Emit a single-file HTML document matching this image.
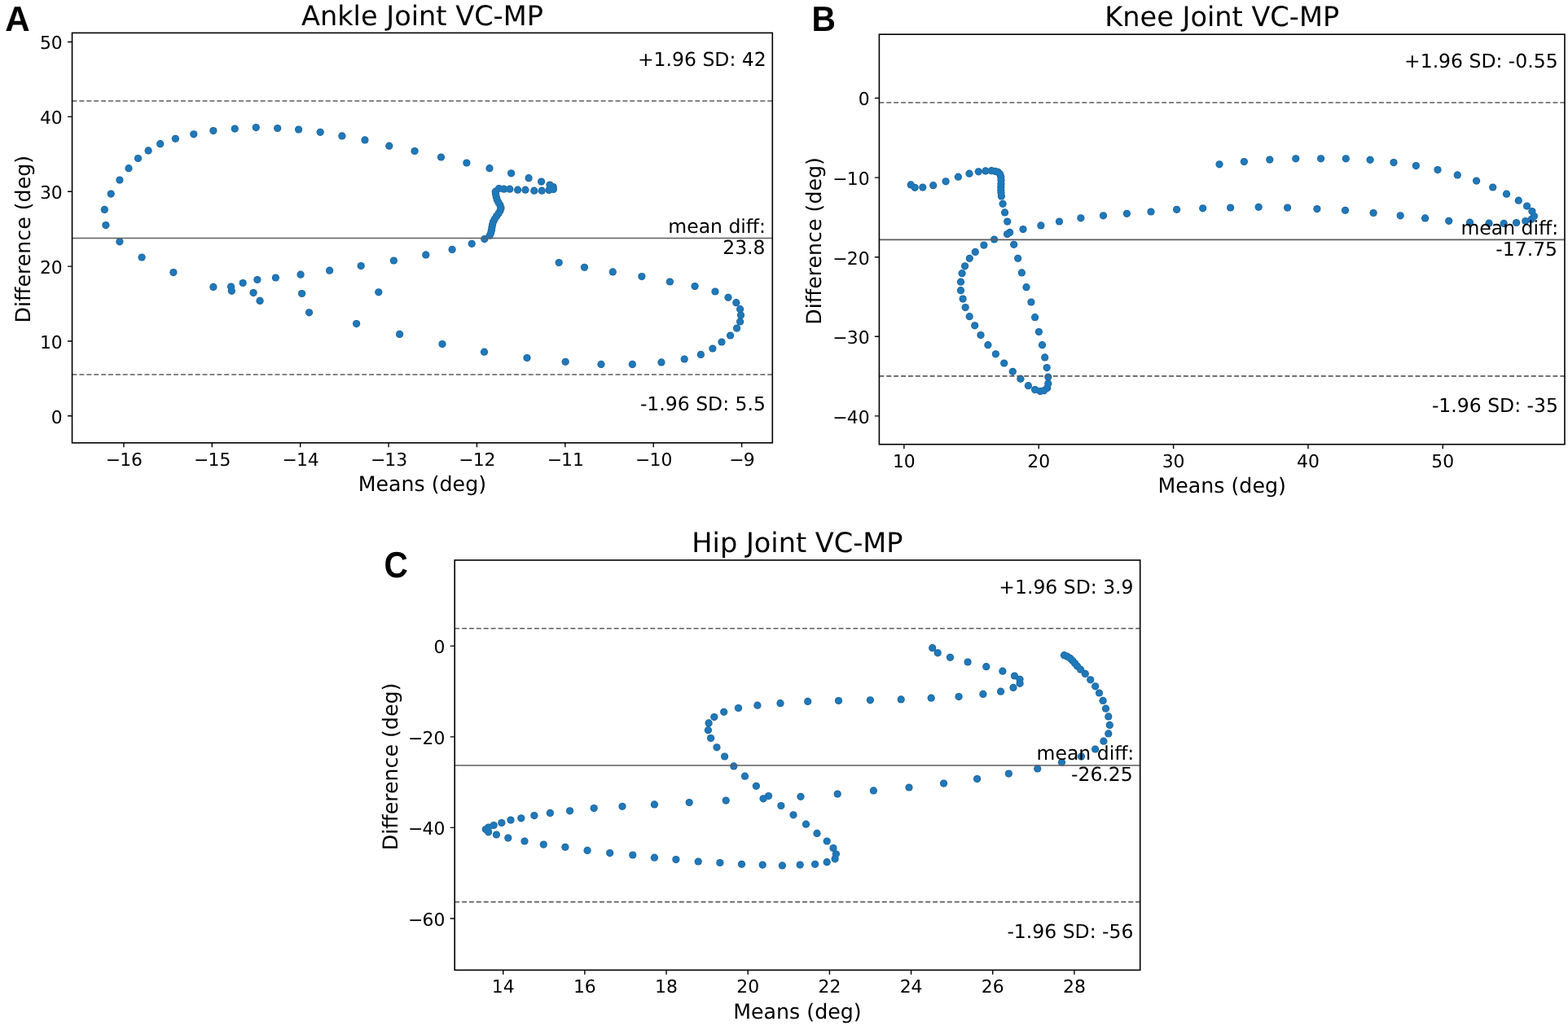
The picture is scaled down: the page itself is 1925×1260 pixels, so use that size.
<!DOCTYPE html><html><head><meta charset="utf-8"><title>Bland-Altman VC-MP</title><style>html,body{margin:0;padding:0;background:#fff;}svg{display:block;}text{font-family:"DejaVu Sans","Liberation Sans",sans-serif;fill:#000;text-rendering:geometricPrecision;}.lt{font-family:"Liberation Sans",Arial,sans-serif;font-weight:bold;text-rendering:geometricPrecision;}</style></head><body>
<svg width="1925" height="1260" viewBox="0 0 1925 1260">
<rect width="1925" height="1260" fill="#fff"/>
<g><g fill="#1a5e98">
<circle cx="129.9" cy="276.6" r="4.6"/>
<circle cx="128.3" cy="257.4" r="4.6"/>
<circle cx="136.2" cy="238.1" r="4.6"/>
<circle cx="146.9" cy="221.1" r="4.6"/>
<circle cx="158.0" cy="206.7" r="4.6"/>
<circle cx="169.5" cy="194.5" r="4.6"/>
<circle cx="182.1" cy="184.9" r="4.6"/>
<circle cx="196.7" cy="176.7" r="4.6"/>
<circle cx="215.4" cy="170.3" r="4.6"/>
<circle cx="237.8" cy="164.8" r="4.6"/>
<circle cx="261.9" cy="160.6" r="4.6"/>
<circle cx="288.3" cy="158.1" r="4.6"/>
<circle cx="314.3" cy="156.6" r="4.6"/>
<circle cx="340.7" cy="157.5" r="4.6"/>
<circle cx="366.6" cy="159.1" r="4.6"/>
<circle cx="393.2" cy="162.3" r="4.6"/>
<circle cx="419.9" cy="166.9" r="4.6"/>
<circle cx="448.0" cy="171.9" r="4.6"/>
<circle cx="477.8" cy="179.2" r="4.6"/>
<circle cx="509.1" cy="185.5" r="4.6"/>
<circle cx="541.5" cy="193.0" r="4.6"/>
<circle cx="572.9" cy="200.0" r="4.6"/>
<circle cx="601.0" cy="206.7" r="4.6"/>
<circle cx="627.6" cy="212.8" r="4.6"/>
<circle cx="649.1" cy="218.7" r="4.6"/>
<circle cx="664.6" cy="223.1" r="4.6"/>
<circle cx="675.0" cy="227.1" r="4.6"/>
<circle cx="679.1" cy="229.5" r="4.6"/>
<circle cx="679.4" cy="232.5" r="4.6"/>
<circle cx="674.0" cy="233.5" r="4.6"/>
<circle cx="665.2" cy="234.2" r="4.6"/>
<circle cx="655.8" cy="234.2" r="4.6"/>
<circle cx="645.0" cy="233.2" r="4.6"/>
<circle cx="635.6" cy="233.2" r="4.6"/>
<circle cx="625.8" cy="232.2" r="4.6"/>
<circle cx="618.7" cy="232.2" r="4.6"/>
<circle cx="612.6" cy="231.5" r="4.6"/>
<circle cx="608.3" cy="235.2" r="4.6"/>
<circle cx="608.6" cy="238.6" r="4.6"/>
<circle cx="609.3" cy="242.0" r="4.6"/>
<circle cx="610.3" cy="245.3" r="4.6"/>
<circle cx="612.0" cy="248.7" r="4.6"/>
<circle cx="614.0" cy="252.1" r="4.6"/>
<circle cx="615.0" cy="255.5" r="4.6"/>
<circle cx="614.0" cy="258.8" r="4.6"/>
<circle cx="612.0" cy="262.2" r="4.6"/>
<circle cx="609.6" cy="265.6" r="4.6"/>
<circle cx="607.3" cy="268.9" r="4.6"/>
<circle cx="605.6" cy="272.3" r="4.6"/>
<circle cx="604.6" cy="275.7" r="4.6"/>
<circle cx="604.0" cy="279.1" r="4.6"/>
<circle cx="603.5" cy="282.4" r="4.6"/>
<circle cx="602.7" cy="285.8" r="4.6"/>
<circle cx="601.2" cy="289.2" r="4.6"/>
<circle cx="594.8" cy="293.6" r="4.6"/>
<circle cx="579.2" cy="299.3" r="4.6"/>
<circle cx="555.1" cy="306.4" r="4.6"/>
<circle cx="522.8" cy="312.9" r="4.6"/>
<circle cx="483.4" cy="320.0" r="4.6"/>
<circle cx="443.2" cy="326.5" r="4.6"/>
<circle cx="404.6" cy="332.2" r="4.6"/>
<circle cx="369.1" cy="337.2" r="4.6"/>
<circle cx="338.4" cy="341.0" r="4.6"/>
<circle cx="315.9" cy="343.5" r="4.6"/>
<circle cx="298.2" cy="347.5" r="4.6"/>
<circle cx="283.6" cy="352.1" r="4.6"/>
<circle cx="261.9" cy="352.4" r="4.6"/>
<circle cx="146.9" cy="296.8" r="4.6"/>
<circle cx="174.1" cy="316.0" r="4.6"/>
<circle cx="212.9" cy="334.6" r="4.6"/>
<circle cx="284.4" cy="357.3" r="4.6"/>
<circle cx="311.1" cy="359.6" r="4.6"/>
<circle cx="319.1" cy="369.4" r="4.6"/>
<circle cx="370.6" cy="360.5" r="4.6"/>
<circle cx="379.5" cy="383.8" r="4.6"/>
<circle cx="464.8" cy="358.8" r="4.6"/>
<circle cx="437.6" cy="397.6" r="4.6"/>
<circle cx="490.6" cy="410.4" r="4.6"/>
<circle cx="543.0" cy="422.5" r="4.6"/>
<circle cx="594.5" cy="432.2" r="4.6"/>
<circle cx="647.0" cy="439.5" r="4.6"/>
<circle cx="694.2" cy="444.3" r="4.6"/>
<circle cx="738.0" cy="447.4" r="4.6"/>
<circle cx="776.4" cy="447.4" r="4.6"/>
<circle cx="812.0" cy="444.9" r="4.6"/>
<circle cx="840.2" cy="441.0" r="4.6"/>
<circle cx="860.4" cy="435.4" r="4.6"/>
<circle cx="874.9" cy="428.0" r="4.6"/>
<circle cx="886.0" cy="420.0" r="4.6"/>
<circle cx="896.6" cy="412.0" r="4.6"/>
<circle cx="904.6" cy="403.1" r="4.6"/>
<circle cx="908.6" cy="394.9" r="4.6"/>
<circle cx="909.5" cy="387.1" r="4.6"/>
<circle cx="908.6" cy="379.7" r="4.6"/>
<circle cx="903.8" cy="371.7" r="4.6"/>
<circle cx="894.0" cy="365.3" r="4.6"/>
<circle cx="878.0" cy="358.0" r="4.6"/>
<circle cx="853.1" cy="351.6" r="4.6"/>
<circle cx="822.4" cy="346.0" r="4.6"/>
<circle cx="787.9" cy="339.6" r="4.6"/>
<circle cx="752.3" cy="333.9" r="4.6"/>
<circle cx="717.5" cy="328.3" r="4.6"/>
<circle cx="686.2" cy="322.5" r="4.6"/>
</g>
<g fill="#1f78b8">
<circle cx="129.9" cy="276.6" r="3.85"/>
<circle cx="128.3" cy="257.4" r="3.85"/>
<circle cx="136.2" cy="238.1" r="3.85"/>
<circle cx="146.9" cy="221.1" r="3.85"/>
<circle cx="158.0" cy="206.7" r="3.85"/>
<circle cx="169.5" cy="194.5" r="3.85"/>
<circle cx="182.1" cy="184.9" r="3.85"/>
<circle cx="196.7" cy="176.7" r="3.85"/>
<circle cx="215.4" cy="170.3" r="3.85"/>
<circle cx="237.8" cy="164.8" r="3.85"/>
<circle cx="261.9" cy="160.6" r="3.85"/>
<circle cx="288.3" cy="158.1" r="3.85"/>
<circle cx="314.3" cy="156.6" r="3.85"/>
<circle cx="340.7" cy="157.5" r="3.85"/>
<circle cx="366.6" cy="159.1" r="3.85"/>
<circle cx="393.2" cy="162.3" r="3.85"/>
<circle cx="419.9" cy="166.9" r="3.85"/>
<circle cx="448.0" cy="171.9" r="3.85"/>
<circle cx="477.8" cy="179.2" r="3.85"/>
<circle cx="509.1" cy="185.5" r="3.85"/>
<circle cx="541.5" cy="193.0" r="3.85"/>
<circle cx="572.9" cy="200.0" r="3.85"/>
<circle cx="601.0" cy="206.7" r="3.85"/>
<circle cx="627.6" cy="212.8" r="3.85"/>
<circle cx="649.1" cy="218.7" r="3.85"/>
<circle cx="664.6" cy="223.1" r="3.85"/>
<circle cx="675.0" cy="227.1" r="3.85"/>
<circle cx="679.1" cy="229.5" r="3.85"/>
<circle cx="679.4" cy="232.5" r="3.85"/>
<circle cx="674.0" cy="233.5" r="3.85"/>
<circle cx="665.2" cy="234.2" r="3.85"/>
<circle cx="655.8" cy="234.2" r="3.85"/>
<circle cx="645.0" cy="233.2" r="3.85"/>
<circle cx="635.6" cy="233.2" r="3.85"/>
<circle cx="625.8" cy="232.2" r="3.85"/>
<circle cx="618.7" cy="232.2" r="3.85"/>
<circle cx="612.6" cy="231.5" r="3.85"/>
<circle cx="608.3" cy="235.2" r="3.85"/>
<circle cx="608.6" cy="238.6" r="3.85"/>
<circle cx="609.3" cy="242.0" r="3.85"/>
<circle cx="610.3" cy="245.3" r="3.85"/>
<circle cx="612.0" cy="248.7" r="3.85"/>
<circle cx="614.0" cy="252.1" r="3.85"/>
<circle cx="615.0" cy="255.5" r="3.85"/>
<circle cx="614.0" cy="258.8" r="3.85"/>
<circle cx="612.0" cy="262.2" r="3.85"/>
<circle cx="609.6" cy="265.6" r="3.85"/>
<circle cx="607.3" cy="268.9" r="3.85"/>
<circle cx="605.6" cy="272.3" r="3.85"/>
<circle cx="604.6" cy="275.7" r="3.85"/>
<circle cx="604.0" cy="279.1" r="3.85"/>
<circle cx="603.5" cy="282.4" r="3.85"/>
<circle cx="602.7" cy="285.8" r="3.85"/>
<circle cx="601.2" cy="289.2" r="3.85"/>
<circle cx="594.8" cy="293.6" r="3.85"/>
<circle cx="579.2" cy="299.3" r="3.85"/>
<circle cx="555.1" cy="306.4" r="3.85"/>
<circle cx="522.8" cy="312.9" r="3.85"/>
<circle cx="483.4" cy="320.0" r="3.85"/>
<circle cx="443.2" cy="326.5" r="3.85"/>
<circle cx="404.6" cy="332.2" r="3.85"/>
<circle cx="369.1" cy="337.2" r="3.85"/>
<circle cx="338.4" cy="341.0" r="3.85"/>
<circle cx="315.9" cy="343.5" r="3.85"/>
<circle cx="298.2" cy="347.5" r="3.85"/>
<circle cx="283.6" cy="352.1" r="3.85"/>
<circle cx="261.9" cy="352.4" r="3.85"/>
<circle cx="146.9" cy="296.8" r="3.85"/>
<circle cx="174.1" cy="316.0" r="3.85"/>
<circle cx="212.9" cy="334.6" r="3.85"/>
<circle cx="284.4" cy="357.3" r="3.85"/>
<circle cx="311.1" cy="359.6" r="3.85"/>
<circle cx="319.1" cy="369.4" r="3.85"/>
<circle cx="370.6" cy="360.5" r="3.85"/>
<circle cx="379.5" cy="383.8" r="3.85"/>
<circle cx="464.8" cy="358.8" r="3.85"/>
<circle cx="437.6" cy="397.6" r="3.85"/>
<circle cx="490.6" cy="410.4" r="3.85"/>
<circle cx="543.0" cy="422.5" r="3.85"/>
<circle cx="594.5" cy="432.2" r="3.85"/>
<circle cx="647.0" cy="439.5" r="3.85"/>
<circle cx="694.2" cy="444.3" r="3.85"/>
<circle cx="738.0" cy="447.4" r="3.85"/>
<circle cx="776.4" cy="447.4" r="3.85"/>
<circle cx="812.0" cy="444.9" r="3.85"/>
<circle cx="840.2" cy="441.0" r="3.85"/>
<circle cx="860.4" cy="435.4" r="3.85"/>
<circle cx="874.9" cy="428.0" r="3.85"/>
<circle cx="886.0" cy="420.0" r="3.85"/>
<circle cx="896.6" cy="412.0" r="3.85"/>
<circle cx="904.6" cy="403.1" r="3.85"/>
<circle cx="908.6" cy="394.9" r="3.85"/>
<circle cx="909.5" cy="387.1" r="3.85"/>
<circle cx="908.6" cy="379.7" r="3.85"/>
<circle cx="903.8" cy="371.7" r="3.85"/>
<circle cx="894.0" cy="365.3" r="3.85"/>
<circle cx="878.0" cy="358.0" r="3.85"/>
<circle cx="853.1" cy="351.6" r="3.85"/>
<circle cx="822.4" cy="346.0" r="3.85"/>
<circle cx="787.9" cy="339.6" r="3.85"/>
<circle cx="752.3" cy="333.9" r="3.85"/>
<circle cx="717.5" cy="328.3" r="3.85"/>
<circle cx="686.2" cy="322.5" r="3.85"/>
</g>
<line x1="88.55" y1="124.05" x2="948.30" y2="124.05" stroke="#5c5c5c" stroke-width="1.6" stroke-dasharray="5.9 2.993"/>
<line x1="88.55" y1="292.50" x2="948.30" y2="292.50" stroke="#5c5c5c" stroke-width="1.6"/>
<line x1="88.55" y1="460.00" x2="948.30" y2="460.00" stroke="#5c5c5c" stroke-width="1.6" stroke-dasharray="5.9 2.993"/>
<rect x="88.55" y="40.40" width="859.75" height="503.45" fill="none" stroke="#000" stroke-width="1.60"/>
<path d="M151.94 543.85v5.5M260.32 543.85v5.5M368.70 543.85v5.5M477.08 543.85v5.5M585.46 543.85v5.5M693.84 543.85v5.5M802.22 543.85v5.5M910.60 543.85v5.5M88.55 510.79h-5.5M88.55 418.95h-5.5M88.55 327.10h-5.5M88.55 235.26h-5.5M88.55 143.41h-5.5M88.55 51.56h-5.5" stroke="#000" stroke-width="1.4" fill="none"/>
<text x="152.39" y="571.85" font-size="21.90" text-anchor="middle">−<tspan dx="-0.9">16</tspan></text>
<text x="260.77" y="571.85" font-size="21.90" text-anchor="middle">−<tspan dx="-0.9">15</tspan></text>
<text x="369.15" y="571.85" font-size="21.90" text-anchor="middle">−<tspan dx="-0.9">14</tspan></text>
<text x="477.53" y="571.85" font-size="21.90" text-anchor="middle">−<tspan dx="-0.9">13</tspan></text>
<text x="585.91" y="571.85" font-size="21.90" text-anchor="middle">−<tspan dx="-0.9">12</tspan></text>
<text x="694.29" y="571.85" font-size="21.90" text-anchor="middle">−<tspan dx="-0.9">11</tspan></text>
<text x="802.67" y="571.85" font-size="21.90" text-anchor="middle">−<tspan dx="-0.9">10</tspan></text>
<text x="911.05" y="571.85" font-size="21.90" text-anchor="middle">−<tspan dx="-0.9">9</tspan></text>
<text x="76.75" y="519.59" font-size="21.90" text-anchor="end">0</text>
<text x="76.75" y="427.75" font-size="21.90" text-anchor="end">10</text>
<text x="76.75" y="335.90" font-size="21.90" text-anchor="end">20</text>
<text x="76.75" y="244.06" font-size="21.90" text-anchor="end">30</text>
<text x="76.75" y="152.21" font-size="21.90" text-anchor="end">40</text>
<text x="76.75" y="60.36" font-size="21.90" text-anchor="end">50</text>
<text x="940.69" y="81.40" font-size="23.50" text-anchor="end">+1.96 SD: 42</text>
<text x="939.97" y="285.80" font-size="23.50" text-anchor="end">mean diff:</text>
<text x="939.53" y="311.80" font-size="23.50" text-anchor="end">23.8</text>
<text x="939.95" y="504.45" font-size="23.50" text-anchor="end">-1.96 SD: 5.5</text>
<text x="518.42" y="30.75" font-size="33.60" text-anchor="middle">Ankle Joint VC-MP</text>
<text x="518.42" y="603.15" font-size="25.25" text-anchor="middle">Means (deg)</text>
<text transform="translate(36.60 293.70) rotate(-90)" x="0" y="0" font-size="25.25" text-anchor="middle">Difference (deg)</text>
<text class="lt" font-size="100" transform="translate(6.13 37.86) scale(0.4220 0.4334)">A</text></g>
<g><g fill="#1a5e98">
<circle cx="1118.2" cy="226.9" r="4.6"/>
<circle cx="1123.1" cy="230.3" r="4.6"/>
<circle cx="1132.8" cy="230.1" r="4.6"/>
<circle cx="1145.7" cy="227.7" r="4.6"/>
<circle cx="1161.1" cy="222.8" r="4.6"/>
<circle cx="1176.4" cy="217.2" r="4.6"/>
<circle cx="1190.0" cy="213.2" r="4.6"/>
<circle cx="1201.3" cy="210.8" r="4.6"/>
<circle cx="1209.9" cy="209.9" r="4.6"/>
<circle cx="1217.2" cy="209.7" r="4.6"/>
<circle cx="1221.6" cy="210.3" r="4.6"/>
<circle cx="1225.2" cy="211.3" r="4.6"/>
<circle cx="1227.8" cy="213.9" r="4.6"/>
<circle cx="1228.8" cy="217.5" r="4.6"/>
<circle cx="1229.0" cy="221.2" r="4.6"/>
<circle cx="1229.0" cy="225.8" r="4.6"/>
<circle cx="1228.8" cy="229.5" r="4.6"/>
<circle cx="1228.8" cy="233.6" r="4.6"/>
<circle cx="1229.0" cy="236.8" r="4.6"/>
<circle cx="1229.4" cy="240.9" r="4.6"/>
<circle cx="1231.1" cy="250.3" r="4.6"/>
<circle cx="1233.6" cy="260.9" r="4.6"/>
<circle cx="1236.7" cy="272.1" r="4.6"/>
<circle cx="1239.7" cy="285.4" r="4.6"/>
<circle cx="1236.6" cy="287.5" r="4.6"/>
<circle cx="1244.7" cy="300.3" r="4.6"/>
<circle cx="1249.7" cy="317.3" r="4.6"/>
<circle cx="1254.4" cy="334.9" r="4.6"/>
<circle cx="1260.0" cy="352.7" r="4.6"/>
<circle cx="1265.9" cy="371.0" r="4.6"/>
<circle cx="1270.6" cy="389.7" r="4.6"/>
<circle cx="1275.4" cy="407.5" r="4.6"/>
<circle cx="1279.5" cy="423.7" r="4.6"/>
<circle cx="1282.7" cy="438.9" r="4.6"/>
<circle cx="1285.2" cy="451.6" r="4.6"/>
<circle cx="1286.8" cy="463.0" r="4.6"/>
<circle cx="1286.8" cy="471.0" r="4.6"/>
<circle cx="1285.7" cy="476.5" r="4.6"/>
<circle cx="1281.7" cy="479.7" r="4.6"/>
<circle cx="1277.0" cy="480.5" r="4.6"/>
<circle cx="1270.6" cy="478.6" r="4.6"/>
<circle cx="1262.4" cy="473.7" r="4.6"/>
<circle cx="1252.9" cy="465.2" r="4.6"/>
<circle cx="1243.3" cy="456.3" r="4.6"/>
<circle cx="1232.7" cy="446.0" r="4.6"/>
<circle cx="1222.4" cy="434.8" r="4.6"/>
<circle cx="1212.9" cy="423.7" r="4.6"/>
<circle cx="1204.0" cy="411.6" r="4.6"/>
<circle cx="1196.7" cy="399.8" r="4.6"/>
<circle cx="1190.2" cy="388.7" r="4.6"/>
<circle cx="1185.2" cy="377.6" r="4.6"/>
<circle cx="1182.1" cy="367.1" r="4.6"/>
<circle cx="1179.5" cy="356.7" r="4.6"/>
<circle cx="1179.5" cy="346.2" r="4.6"/>
<circle cx="1181.1" cy="335.7" r="4.6"/>
<circle cx="1184.6" cy="326.8" r="4.6"/>
<circle cx="1190.3" cy="317.3" r="4.6"/>
<circle cx="1197.3" cy="309.4" r="4.6"/>
<circle cx="1207.9" cy="301.1" r="4.6"/>
<circle cx="1220.6" cy="294.0" r="4.6"/>
<circle cx="1256.0" cy="281.6" r="4.6"/>
<circle cx="1277.9" cy="276.9" r="4.6"/>
<circle cx="1300.5" cy="272.0" r="4.6"/>
<circle cx="1326.9" cy="267.8" r="4.6"/>
<circle cx="1354.5" cy="264.8" r="4.6"/>
<circle cx="1383.4" cy="262.3" r="4.6"/>
<circle cx="1413.0" cy="260.0" r="4.6"/>
<circle cx="1444.6" cy="257.3" r="4.6"/>
<circle cx="1476.7" cy="255.8" r="4.6"/>
<circle cx="1510.6" cy="255.0" r="4.6"/>
<circle cx="1545.2" cy="254.3" r="4.6"/>
<circle cx="1580.6" cy="255.1" r="4.6"/>
<circle cx="1616.9" cy="256.6" r="4.6"/>
<circle cx="1651.5" cy="258.3" r="4.6"/>
<circle cx="1686.1" cy="261.5" r="4.6"/>
<circle cx="1719.2" cy="264.8" r="4.6"/>
<circle cx="1749.6" cy="267.9" r="4.6"/>
<circle cx="1778.7" cy="271.3" r="4.6"/>
<circle cx="1804.5" cy="273.2" r="4.6"/>
<circle cx="1828.0" cy="274.2" r="4.6"/>
<circle cx="1846.2" cy="274.4" r="4.6"/>
<circle cx="1861.6" cy="273.5" r="4.6"/>
<circle cx="1872.8" cy="271.5" r="4.6"/>
<circle cx="1880.1" cy="269.3" r="4.6"/>
<circle cx="1883.4" cy="265.6" r="4.6"/>
<circle cx="1880.9" cy="259.6" r="4.6"/>
<circle cx="1874.6" cy="253.1" r="4.6"/>
<circle cx="1864.3" cy="246.2" r="4.6"/>
<circle cx="1849.5" cy="238.2" r="4.6"/>
<circle cx="1832.7" cy="230.0" r="4.6"/>
<circle cx="1812.6" cy="222.1" r="4.6"/>
<circle cx="1789.3" cy="214.9" r="4.6"/>
<circle cx="1765.0" cy="208.6" r="4.6"/>
<circle cx="1738.4" cy="203.6" r="4.6"/>
<circle cx="1711.0" cy="199.6" r="4.6"/>
<circle cx="1682.1" cy="196.3" r="4.6"/>
<circle cx="1652.3" cy="194.8" r="4.6"/>
<circle cx="1621.6" cy="194.8" r="4.6"/>
<circle cx="1590.8" cy="194.8" r="4.6"/>
<circle cx="1558.8" cy="196.1" r="4.6"/>
<circle cx="1527.4" cy="198.6" r="4.6"/>
<circle cx="1497.0" cy="201.8" r="4.6"/>
</g>
<g fill="#1f78b8">
<circle cx="1118.2" cy="226.9" r="3.85"/>
<circle cx="1123.1" cy="230.3" r="3.85"/>
<circle cx="1132.8" cy="230.1" r="3.85"/>
<circle cx="1145.7" cy="227.7" r="3.85"/>
<circle cx="1161.1" cy="222.8" r="3.85"/>
<circle cx="1176.4" cy="217.2" r="3.85"/>
<circle cx="1190.0" cy="213.2" r="3.85"/>
<circle cx="1201.3" cy="210.8" r="3.85"/>
<circle cx="1209.9" cy="209.9" r="3.85"/>
<circle cx="1217.2" cy="209.7" r="3.85"/>
<circle cx="1221.6" cy="210.3" r="3.85"/>
<circle cx="1225.2" cy="211.3" r="3.85"/>
<circle cx="1227.8" cy="213.9" r="3.85"/>
<circle cx="1228.8" cy="217.5" r="3.85"/>
<circle cx="1229.0" cy="221.2" r="3.85"/>
<circle cx="1229.0" cy="225.8" r="3.85"/>
<circle cx="1228.8" cy="229.5" r="3.85"/>
<circle cx="1228.8" cy="233.6" r="3.85"/>
<circle cx="1229.0" cy="236.8" r="3.85"/>
<circle cx="1229.4" cy="240.9" r="3.85"/>
<circle cx="1231.1" cy="250.3" r="3.85"/>
<circle cx="1233.6" cy="260.9" r="3.85"/>
<circle cx="1236.7" cy="272.1" r="3.85"/>
<circle cx="1239.7" cy="285.4" r="3.85"/>
<circle cx="1236.6" cy="287.5" r="3.85"/>
<circle cx="1244.7" cy="300.3" r="3.85"/>
<circle cx="1249.7" cy="317.3" r="3.85"/>
<circle cx="1254.4" cy="334.9" r="3.85"/>
<circle cx="1260.0" cy="352.7" r="3.85"/>
<circle cx="1265.9" cy="371.0" r="3.85"/>
<circle cx="1270.6" cy="389.7" r="3.85"/>
<circle cx="1275.4" cy="407.5" r="3.85"/>
<circle cx="1279.5" cy="423.7" r="3.85"/>
<circle cx="1282.7" cy="438.9" r="3.85"/>
<circle cx="1285.2" cy="451.6" r="3.85"/>
<circle cx="1286.8" cy="463.0" r="3.85"/>
<circle cx="1286.8" cy="471.0" r="3.85"/>
<circle cx="1285.7" cy="476.5" r="3.85"/>
<circle cx="1281.7" cy="479.7" r="3.85"/>
<circle cx="1277.0" cy="480.5" r="3.85"/>
<circle cx="1270.6" cy="478.6" r="3.85"/>
<circle cx="1262.4" cy="473.7" r="3.85"/>
<circle cx="1252.9" cy="465.2" r="3.85"/>
<circle cx="1243.3" cy="456.3" r="3.85"/>
<circle cx="1232.7" cy="446.0" r="3.85"/>
<circle cx="1222.4" cy="434.8" r="3.85"/>
<circle cx="1212.9" cy="423.7" r="3.85"/>
<circle cx="1204.0" cy="411.6" r="3.85"/>
<circle cx="1196.7" cy="399.8" r="3.85"/>
<circle cx="1190.2" cy="388.7" r="3.85"/>
<circle cx="1185.2" cy="377.6" r="3.85"/>
<circle cx="1182.1" cy="367.1" r="3.85"/>
<circle cx="1179.5" cy="356.7" r="3.85"/>
<circle cx="1179.5" cy="346.2" r="3.85"/>
<circle cx="1181.1" cy="335.7" r="3.85"/>
<circle cx="1184.6" cy="326.8" r="3.85"/>
<circle cx="1190.3" cy="317.3" r="3.85"/>
<circle cx="1197.3" cy="309.4" r="3.85"/>
<circle cx="1207.9" cy="301.1" r="3.85"/>
<circle cx="1220.6" cy="294.0" r="3.85"/>
<circle cx="1256.0" cy="281.6" r="3.85"/>
<circle cx="1277.9" cy="276.9" r="3.85"/>
<circle cx="1300.5" cy="272.0" r="3.85"/>
<circle cx="1326.9" cy="267.8" r="3.85"/>
<circle cx="1354.5" cy="264.8" r="3.85"/>
<circle cx="1383.4" cy="262.3" r="3.85"/>
<circle cx="1413.0" cy="260.0" r="3.85"/>
<circle cx="1444.6" cy="257.3" r="3.85"/>
<circle cx="1476.7" cy="255.8" r="3.85"/>
<circle cx="1510.6" cy="255.0" r="3.85"/>
<circle cx="1545.2" cy="254.3" r="3.85"/>
<circle cx="1580.6" cy="255.1" r="3.85"/>
<circle cx="1616.9" cy="256.6" r="3.85"/>
<circle cx="1651.5" cy="258.3" r="3.85"/>
<circle cx="1686.1" cy="261.5" r="3.85"/>
<circle cx="1719.2" cy="264.8" r="3.85"/>
<circle cx="1749.6" cy="267.9" r="3.85"/>
<circle cx="1778.7" cy="271.3" r="3.85"/>
<circle cx="1804.5" cy="273.2" r="3.85"/>
<circle cx="1828.0" cy="274.2" r="3.85"/>
<circle cx="1846.2" cy="274.4" r="3.85"/>
<circle cx="1861.6" cy="273.5" r="3.85"/>
<circle cx="1872.8" cy="271.5" r="3.85"/>
<circle cx="1880.1" cy="269.3" r="3.85"/>
<circle cx="1883.4" cy="265.6" r="3.85"/>
<circle cx="1880.9" cy="259.6" r="3.85"/>
<circle cx="1874.6" cy="253.1" r="3.85"/>
<circle cx="1864.3" cy="246.2" r="3.85"/>
<circle cx="1849.5" cy="238.2" r="3.85"/>
<circle cx="1832.7" cy="230.0" r="3.85"/>
<circle cx="1812.6" cy="222.1" r="3.85"/>
<circle cx="1789.3" cy="214.9" r="3.85"/>
<circle cx="1765.0" cy="208.6" r="3.85"/>
<circle cx="1738.4" cy="203.6" r="3.85"/>
<circle cx="1711.0" cy="199.6" r="3.85"/>
<circle cx="1682.1" cy="196.3" r="3.85"/>
<circle cx="1652.3" cy="194.8" r="3.85"/>
<circle cx="1621.6" cy="194.8" r="3.85"/>
<circle cx="1590.8" cy="194.8" r="3.85"/>
<circle cx="1558.8" cy="196.1" r="3.85"/>
<circle cx="1527.4" cy="198.6" r="3.85"/>
<circle cx="1497.0" cy="201.8" r="3.85"/>
</g>
<line x1="1079.40" y1="126.00" x2="1920.95" y2="126.00" stroke="#5c5c5c" stroke-width="1.6" stroke-dasharray="5.9 2.993"/>
<line x1="1079.40" y1="294.40" x2="1920.95" y2="294.40" stroke="#5c5c5c" stroke-width="1.6"/>
<line x1="1079.40" y1="461.90" x2="1920.95" y2="461.90" stroke="#5c5c5c" stroke-width="1.6" stroke-dasharray="5.9 2.993"/>
<rect x="1079.40" y="42.20" width="841.55" height="503.50" fill="none" stroke="#000" stroke-width="1.60"/>
<path d="M1109.88 545.70v5.5M1275.24 545.70v5.5M1440.59 545.70v5.5M1605.95 545.70v5.5M1771.30 545.70v5.5M1079.40 120.57h-5.5M1079.40 218.14h-5.5M1079.40 315.71h-5.5M1079.40 413.28h-5.5M1079.40 510.85h-5.5" stroke="#000" stroke-width="1.4" fill="none"/>
<text x="1109.88" y="573.70" font-size="21.90" text-anchor="middle">10</text>
<text x="1275.24" y="573.70" font-size="21.90" text-anchor="middle">20</text>
<text x="1440.59" y="573.70" font-size="21.90" text-anchor="middle">30</text>
<text x="1605.95" y="573.70" font-size="21.90" text-anchor="middle">40</text>
<text x="1771.30" y="573.70" font-size="21.90" text-anchor="middle">50</text>
<text x="1067.60" y="129.37" font-size="21.90" text-anchor="end">0</text>
<text x="1067.60" y="226.94" font-size="21.90" text-anchor="end">−<tspan dx="-0.9">10</tspan></text>
<text x="1067.60" y="324.51" font-size="21.90" text-anchor="end">−<tspan dx="-0.9">20</tspan></text>
<text x="1067.60" y="422.08" font-size="21.90" text-anchor="end">−<tspan dx="-0.9">30</tspan></text>
<text x="1067.60" y="519.65" font-size="21.90" text-anchor="end">−<tspan dx="-0.9">40</tspan></text>
<text x="1912.69" y="83.20" font-size="23.50" text-anchor="end">+1.96 SD: -0.55</text>
<text x="1913.07" y="287.60" font-size="23.50" text-anchor="end">mean diff:</text>
<text x="1912.06" y="313.50" font-size="23.50" text-anchor="end">-17.75</text>
<text x="1912.96" y="505.80" font-size="23.50" text-anchor="end">-1.96 SD: -35</text>
<text x="1500.18" y="32.40" font-size="33.60" text-anchor="middle">Knee Joint VC-MP</text>
<text x="1500.18" y="605.00" font-size="25.25" text-anchor="middle">Means (deg)</text>
<text transform="translate(1008.40 295.90) rotate(-90)" x="0" y="0" font-size="25.25" text-anchor="middle">Difference (deg)</text>
<text class="lt" font-size="100" transform="translate(996.58 37.83) scale(0.4075 0.4336)">B</text></g>
<g><g fill="#1a5e98">
<circle cx="1144.7" cy="795.7" r="4.6"/>
<circle cx="1151.2" cy="801.8" r="4.6"/>
<circle cx="1166.5" cy="807.3" r="4.6"/>
<circle cx="1188.1" cy="813.0" r="4.6"/>
<circle cx="1210.8" cy="818.7" r="4.6"/>
<circle cx="1230.9" cy="824.2" r="4.6"/>
<circle cx="1245.5" cy="830.0" r="4.6"/>
<circle cx="1252.0" cy="834.3" r="4.6"/>
<circle cx="1252.1" cy="839.3" r="4.6"/>
<circle cx="1244.0" cy="844.4" r="4.6"/>
<circle cx="1228.6" cy="849.2" r="4.6"/>
<circle cx="1206.9" cy="852.4" r="4.6"/>
<circle cx="1177.1" cy="855.6" r="4.6"/>
<circle cx="1143.2" cy="857.2" r="4.6"/>
<circle cx="1106.2" cy="858.9" r="4.6"/>
<circle cx="1068.4" cy="859.8" r="4.6"/>
<circle cx="1029.5" cy="860.5" r="4.6"/>
<circle cx="991.7" cy="861.4" r="4.6"/>
<circle cx="958.0" cy="863.7" r="4.6"/>
<circle cx="929.9" cy="866.2" r="4.6"/>
<circle cx="906.5" cy="869.5" r="4.6"/>
<circle cx="888.7" cy="874.3" r="4.6"/>
<circle cx="876.8" cy="880.6" r="4.6"/>
<circle cx="870.1" cy="887.9" r="4.6"/>
<circle cx="869.4" cy="896.7" r="4.6"/>
<circle cx="872.6" cy="906.5" r="4.6"/>
<circle cx="880.0" cy="917.8" r="4.6"/>
<circle cx="889.6" cy="929.0" r="4.6"/>
<circle cx="900.8" cy="940.9" r="4.6"/>
<circle cx="914.5" cy="953.2" r="4.6"/>
<circle cx="928.4" cy="965.3" r="4.6"/>
<circle cx="943.5" cy="977.5" r="4.6"/>
<circle cx="958.9" cy="989.5" r="4.6"/>
<circle cx="974.0" cy="1000.8" r="4.6"/>
<circle cx="989.5" cy="1012.2" r="4.6"/>
<circle cx="1003.0" cy="1023.4" r="4.6"/>
<circle cx="1015.2" cy="1033.0" r="4.6"/>
<circle cx="1023.0" cy="1041.6" r="4.6"/>
<circle cx="1026.4" cy="1048.8" r="4.6"/>
<circle cx="1025.1" cy="1054.8" r="4.6"/>
<circle cx="1015.2" cy="1058.7" r="4.6"/>
<circle cx="1000.6" cy="1061.3" r="4.6"/>
<circle cx="982.2" cy="1062.1" r="4.6"/>
<circle cx="960.4" cy="1062.9" r="4.6"/>
<circle cx="936.2" cy="1062.1" r="4.6"/>
<circle cx="910.5" cy="1061.3" r="4.6"/>
<circle cx="883.9" cy="1059.5" r="4.6"/>
<circle cx="857.2" cy="1058.0" r="4.6"/>
<circle cx="829.9" cy="1055.6" r="4.6"/>
<circle cx="803.4" cy="1053.2" r="4.6"/>
<circle cx="776.8" cy="1050.0" r="4.6"/>
<circle cx="748.7" cy="1047.6" r="4.6"/>
<circle cx="721.1" cy="1044.4" r="4.6"/>
<circle cx="693.9" cy="1040.3" r="4.6"/>
<circle cx="667.3" cy="1037.1" r="4.6"/>
<circle cx="644.0" cy="1033.0" r="4.6"/>
<circle cx="623.8" cy="1029.1" r="4.6"/>
<circle cx="609.4" cy="1025.0" r="4.6"/>
<circle cx="599.6" cy="1021.8" r="4.6"/>
<circle cx="596.3" cy="1018.5" r="4.6"/>
<circle cx="599.6" cy="1016.0" r="4.6"/>
<circle cx="606.2" cy="1013.5" r="4.6"/>
<circle cx="615.8" cy="1010.5" r="4.6"/>
<circle cx="627.0" cy="1007.1" r="4.6"/>
<circle cx="639.8" cy="1004.8" r="4.6"/>
<circle cx="655.9" cy="1001.6" r="4.6"/>
<circle cx="675.4" cy="998.4" r="4.6"/>
<circle cx="699.6" cy="995.8" r="4.6"/>
<circle cx="729.2" cy="992.6" r="4.6"/>
<circle cx="764.0" cy="990.3" r="4.6"/>
<circle cx="803.4" cy="987.9" r="4.6"/>
<circle cx="846.2" cy="985.5" r="4.6"/>
<circle cx="891.2" cy="983.1" r="4.6"/>
<circle cx="937.1" cy="980.8" r="4.6"/>
<circle cx="983.0" cy="978.3" r="4.6"/>
<circle cx="1028.2" cy="975.1" r="4.6"/>
<circle cx="1072.4" cy="970.9" r="4.6"/>
<circle cx="1116.0" cy="967.0" r="4.6"/>
<circle cx="1158.6" cy="962.1" r="4.6"/>
<circle cx="1199.6" cy="956.6" r="4.6"/>
<circle cx="1238.4" cy="950.1" r="4.6"/>
<circle cx="1273.7" cy="943.9" r="4.6"/>
<circle cx="1303.5" cy="936.2" r="4.6"/>
<circle cx="1327.5" cy="929.1" r="4.6"/>
<circle cx="1344.6" cy="920.0" r="4.6"/>
<circle cx="1354.9" cy="910.2" r="4.6"/>
<circle cx="1360.8" cy="900.9" r="4.6"/>
<circle cx="1362.3" cy="890.4" r="4.6"/>
<circle cx="1360.8" cy="879.9" r="4.6"/>
<circle cx="1357.5" cy="870.2" r="4.6"/>
<circle cx="1354.1" cy="860.4" r="4.6"/>
<circle cx="1349.5" cy="851.0" r="4.6"/>
<circle cx="1344.7" cy="842.8" r="4.6"/>
<circle cx="1338.7" cy="834.8" r="4.6"/>
<circle cx="1332.3" cy="827.4" r="4.6"/>
<circle cx="1326.6" cy="822.2" r="4.6"/>
<circle cx="1322.5" cy="818.1" r="4.6"/>
<circle cx="1319.6" cy="814.6" r="4.6"/>
<circle cx="1316.7" cy="811.3" r="4.6"/>
<circle cx="1313.8" cy="808.4" r="4.6"/>
<circle cx="1310.2" cy="806.2" r="4.6"/>
<circle cx="1306.5" cy="804.7" r="4.6"/>
</g>
<g fill="#1f78b8">
<circle cx="1144.7" cy="795.7" r="3.85"/>
<circle cx="1151.2" cy="801.8" r="3.85"/>
<circle cx="1166.5" cy="807.3" r="3.85"/>
<circle cx="1188.1" cy="813.0" r="3.85"/>
<circle cx="1210.8" cy="818.7" r="3.85"/>
<circle cx="1230.9" cy="824.2" r="3.85"/>
<circle cx="1245.5" cy="830.0" r="3.85"/>
<circle cx="1252.0" cy="834.3" r="3.85"/>
<circle cx="1252.1" cy="839.3" r="3.85"/>
<circle cx="1244.0" cy="844.4" r="3.85"/>
<circle cx="1228.6" cy="849.2" r="3.85"/>
<circle cx="1206.9" cy="852.4" r="3.85"/>
<circle cx="1177.1" cy="855.6" r="3.85"/>
<circle cx="1143.2" cy="857.2" r="3.85"/>
<circle cx="1106.2" cy="858.9" r="3.85"/>
<circle cx="1068.4" cy="859.8" r="3.85"/>
<circle cx="1029.5" cy="860.5" r="3.85"/>
<circle cx="991.7" cy="861.4" r="3.85"/>
<circle cx="958.0" cy="863.7" r="3.85"/>
<circle cx="929.9" cy="866.2" r="3.85"/>
<circle cx="906.5" cy="869.5" r="3.85"/>
<circle cx="888.7" cy="874.3" r="3.85"/>
<circle cx="876.8" cy="880.6" r="3.85"/>
<circle cx="870.1" cy="887.9" r="3.85"/>
<circle cx="869.4" cy="896.7" r="3.85"/>
<circle cx="872.6" cy="906.5" r="3.85"/>
<circle cx="880.0" cy="917.8" r="3.85"/>
<circle cx="889.6" cy="929.0" r="3.85"/>
<circle cx="900.8" cy="940.9" r="3.85"/>
<circle cx="914.5" cy="953.2" r="3.85"/>
<circle cx="928.4" cy="965.3" r="3.85"/>
<circle cx="943.5" cy="977.5" r="3.85"/>
<circle cx="958.9" cy="989.5" r="3.85"/>
<circle cx="974.0" cy="1000.8" r="3.85"/>
<circle cx="989.5" cy="1012.2" r="3.85"/>
<circle cx="1003.0" cy="1023.4" r="3.85"/>
<circle cx="1015.2" cy="1033.0" r="3.85"/>
<circle cx="1023.0" cy="1041.6" r="3.85"/>
<circle cx="1026.4" cy="1048.8" r="3.85"/>
<circle cx="1025.1" cy="1054.8" r="3.85"/>
<circle cx="1015.2" cy="1058.7" r="3.85"/>
<circle cx="1000.6" cy="1061.3" r="3.85"/>
<circle cx="982.2" cy="1062.1" r="3.85"/>
<circle cx="960.4" cy="1062.9" r="3.85"/>
<circle cx="936.2" cy="1062.1" r="3.85"/>
<circle cx="910.5" cy="1061.3" r="3.85"/>
<circle cx="883.9" cy="1059.5" r="3.85"/>
<circle cx="857.2" cy="1058.0" r="3.85"/>
<circle cx="829.9" cy="1055.6" r="3.85"/>
<circle cx="803.4" cy="1053.2" r="3.85"/>
<circle cx="776.8" cy="1050.0" r="3.85"/>
<circle cx="748.7" cy="1047.6" r="3.85"/>
<circle cx="721.1" cy="1044.4" r="3.85"/>
<circle cx="693.9" cy="1040.3" r="3.85"/>
<circle cx="667.3" cy="1037.1" r="3.85"/>
<circle cx="644.0" cy="1033.0" r="3.85"/>
<circle cx="623.8" cy="1029.1" r="3.85"/>
<circle cx="609.4" cy="1025.0" r="3.85"/>
<circle cx="599.6" cy="1021.8" r="3.85"/>
<circle cx="596.3" cy="1018.5" r="3.85"/>
<circle cx="599.6" cy="1016.0" r="3.85"/>
<circle cx="606.2" cy="1013.5" r="3.85"/>
<circle cx="615.8" cy="1010.5" r="3.85"/>
<circle cx="627.0" cy="1007.1" r="3.85"/>
<circle cx="639.8" cy="1004.8" r="3.85"/>
<circle cx="655.9" cy="1001.6" r="3.85"/>
<circle cx="675.4" cy="998.4" r="3.85"/>
<circle cx="699.6" cy="995.8" r="3.85"/>
<circle cx="729.2" cy="992.6" r="3.85"/>
<circle cx="764.0" cy="990.3" r="3.85"/>
<circle cx="803.4" cy="987.9" r="3.85"/>
<circle cx="846.2" cy="985.5" r="3.85"/>
<circle cx="891.2" cy="983.1" r="3.85"/>
<circle cx="937.1" cy="980.8" r="3.85"/>
<circle cx="983.0" cy="978.3" r="3.85"/>
<circle cx="1028.2" cy="975.1" r="3.85"/>
<circle cx="1072.4" cy="970.9" r="3.85"/>
<circle cx="1116.0" cy="967.0" r="3.85"/>
<circle cx="1158.6" cy="962.1" r="3.85"/>
<circle cx="1199.6" cy="956.6" r="3.85"/>
<circle cx="1238.4" cy="950.1" r="3.85"/>
<circle cx="1273.7" cy="943.9" r="3.85"/>
<circle cx="1303.5" cy="936.2" r="3.85"/>
<circle cx="1327.5" cy="929.1" r="3.85"/>
<circle cx="1344.6" cy="920.0" r="3.85"/>
<circle cx="1354.9" cy="910.2" r="3.85"/>
<circle cx="1360.8" cy="900.9" r="3.85"/>
<circle cx="1362.3" cy="890.4" r="3.85"/>
<circle cx="1360.8" cy="879.9" r="3.85"/>
<circle cx="1357.5" cy="870.2" r="3.85"/>
<circle cx="1354.1" cy="860.4" r="3.85"/>
<circle cx="1349.5" cy="851.0" r="3.85"/>
<circle cx="1344.7" cy="842.8" r="3.85"/>
<circle cx="1338.7" cy="834.8" r="3.85"/>
<circle cx="1332.3" cy="827.4" r="3.85"/>
<circle cx="1326.6" cy="822.2" r="3.85"/>
<circle cx="1322.5" cy="818.1" r="3.85"/>
<circle cx="1319.6" cy="814.6" r="3.85"/>
<circle cx="1316.7" cy="811.3" r="3.85"/>
<circle cx="1313.8" cy="808.4" r="3.85"/>
<circle cx="1310.2" cy="806.2" r="3.85"/>
<circle cx="1306.5" cy="804.7" r="3.85"/>
</g>
<line x1="558.20" y1="771.70" x2="1399.70" y2="771.70" stroke="#5c5c5c" stroke-width="1.6" stroke-dasharray="5.9 2.993"/>
<line x1="558.20" y1="939.95" x2="1399.70" y2="939.95" stroke="#5c5c5c" stroke-width="1.6"/>
<line x1="558.20" y1="1107.60" x2="1399.70" y2="1107.60" stroke="#5c5c5c" stroke-width="1.6" stroke-dasharray="5.9 2.993"/>
<rect x="558.20" y="687.90" width="841.50" height="503.45" fill="none" stroke="#000" stroke-width="1.60"/>
<path d="M617.70 1191.35v5.5M717.87 1191.35v5.5M818.04 1191.35v5.5M918.22 1191.35v5.5M1018.39 1191.35v5.5M1118.56 1191.35v5.5M1218.73 1191.35v5.5M1318.90 1191.35v5.5M558.20 793.40h-5.5M558.20 904.91h-5.5M558.20 1016.42h-5.5M558.20 1127.93h-5.5" stroke="#000" stroke-width="1.4" fill="none"/>
<text x="617.70" y="1219.35" font-size="21.90" text-anchor="middle">14</text>
<text x="717.87" y="1219.35" font-size="21.90" text-anchor="middle">16</text>
<text x="818.04" y="1219.35" font-size="21.90" text-anchor="middle">18</text>
<text x="918.22" y="1219.35" font-size="21.90" text-anchor="middle">20</text>
<text x="1018.39" y="1219.35" font-size="21.90" text-anchor="middle">22</text>
<text x="1118.56" y="1219.35" font-size="21.90" text-anchor="middle">24</text>
<text x="1218.73" y="1219.35" font-size="21.90" text-anchor="middle">26</text>
<text x="1318.90" y="1219.35" font-size="21.90" text-anchor="middle">28</text>
<text x="546.40" y="802.20" font-size="21.90" text-anchor="end">0</text>
<text x="546.40" y="913.71" font-size="21.90" text-anchor="end">−<tspan dx="-0.9">20</tspan></text>
<text x="546.40" y="1025.22" font-size="21.90" text-anchor="end">−<tspan dx="-0.9">40</tspan></text>
<text x="546.40" y="1136.73" font-size="21.90" text-anchor="end">−<tspan dx="-0.9">60</tspan></text>
<text x="1391.56" y="728.60" font-size="23.50" text-anchor="end">+1.96 SD: 3.9</text>
<text x="1392.27" y="933.40" font-size="23.50" text-anchor="end">mean diff:</text>
<text x="1390.76" y="959.10" font-size="23.50" text-anchor="end">-26.25</text>
<text x="1391.46" y="1152.20" font-size="23.50" text-anchor="end">-1.96 SD: -56</text>
<text x="978.95" y="678.20" font-size="33.60" text-anchor="middle">Hip Joint VC-MP</text>
<text x="978.95" y="1250.65" font-size="25.25" text-anchor="middle">Means (deg)</text>
<text transform="translate(487.90 941.45) rotate(-90)" x="0" y="0" font-size="25.25" text-anchor="middle">Difference (deg)</text>
<text class="lt" font-size="100" transform="translate(471.50 709.38) scale(0.4076 0.4496)">C</text></g>
</svg></body></html>
